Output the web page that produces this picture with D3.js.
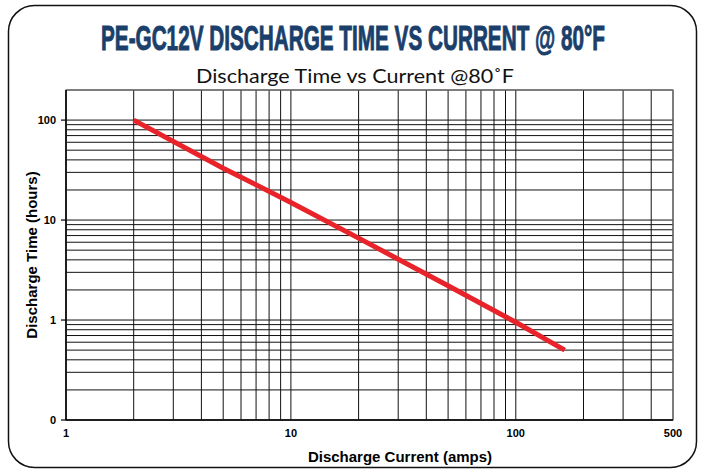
<!DOCTYPE html>
<html>
<head>
<meta charset="utf-8">
<script src="https://cdn.jsdelivr.net/npm/d3@7"></script>
<style>
  body { margin: 0; background: #fff; }
  svg { display: block; }
</style>
</head>
<body>
<svg id="chart" width="703" height="471"></svg>
<script>
// data
var current = [2, 5, 10, 20, 50, 100, 165];
var hours = [100, 33, 15, 6.6, 2.2, 0.95, 0.5];

var xTicks = [1, 10, 100, 500];
var xTickLabels = ['1', '10', '100', '500'];
var yTicks = [0.1, 1, 10, 100];
var yTickLabels = ['0', '1', '10', '100'];

(function () {
var svg = d3.select('#chart');
var mLeft = 66, mRight = 673, mTop = 90, mBottom = 420;

var x = d3.scaleLog().domain([1, 500]).range([mLeft, mRight]);
var y = d3.scaleLog().domain([0.1, 200]).range([mBottom, mTop]);

// frame
svg.append('rect')
    .attr('x', 8.5).attr('y', 5.5)
    .attr('width', 688).attr('height', 462)
    .attr('rx', 26).attr('ry', 26)
    .attr('fill', '#fff')
    .attr('stroke', '#111')
    .attr('stroke-width', 1.5);

svg.append('text')
    .attr('x', 353).attr('y', 50)
    .attr('text-anchor', 'middle')
    .attr('textLength', 504)
    .attr('lengthAdjust', 'spacingAndGlyphs')
    .style('font-family', '"Liberation Sans Narrow", "Liberation Sans", sans-serif')
    .style('font-weight', 'bold')
    .style('font-size', '35px')
    .style('fill', '#1b3f6b')
    .style('stroke', '#1b3f6b')
    .style('stroke-width', 1)
    .text('PE-GC12V DISCHARGE TIME VS CURRENT @ 80°F');

svg.append('text')
    .attr('x', 355).attr('y', 83)
    .attr('text-anchor', 'middle')
    .attr('textLength', 318)
    .attr('lengthAdjust', 'spacingAndGlyphs')
    .style('font-family', 'Lato, sans-serif')
    .style('font-size', '19px')
    .style('fill', '#111')
    .text('Discharge Time vs Current @80˚F');

// grid
var xGrid = [];
[1, 10, 100].forEach(function (d) {
    for (var k = 1; k < 10; k++) if (d * k <= 500) xGrid.push(d * k);
});
var yGrid = [];
[0.1, 1, 10].forEach(function (d) {
    for (var k = 1; k < 10; k++) yGrid.push(d * k);
});
yGrid.push(100, 200);

var g = svg.append('g');
g.selectAll('.vg').data(xGrid).enter().append('line')
    .attr('x1', x).attr('x2', x)
    .attr('y1', mTop).attr('y2', mBottom)
    .attr('stroke', '#111').attr('stroke-width', 1);
g.selectAll('.hg').data(yGrid).enter().append('line')
    .attr('x1', mLeft).attr('x2', mRight)
    .attr('y1', y).attr('y2', y)
    .attr('stroke', '#111').attr('stroke-width', 1);
g.append('rect')
    .attr('x', mLeft).attr('y', mTop)
    .attr('width', mRight - mLeft).attr('height', mBottom - mTop)
    .attr('fill', 'none').attr('stroke', '#777').attr('stroke-width', 1.2);

// axes
svg.append('line')
    .attr('x1', mLeft).attr('x2', mLeft).attr('y1', mTop).attr('y2', mBottom)
    .attr('stroke', '#000').attr('stroke-width', 1.5);
svg.append('line')
    .attr('x1', mLeft).attr('x2', mRight).attr('y1', mBottom).attr('y2', mBottom)
    .attr('stroke', '#000').attr('stroke-width', 1.5);

svg.selectAll('.yt').data(yTicks).enter().append('line')
    .attr('x1', mLeft - 5).attr('x2', mLeft)
    .attr('y1', y).attr('y2', y)
    .attr('stroke', '#000').attr('stroke-width', 1.2);

svg.selectAll('.ytl').data(yTicks).enter().append('text')
    .attr('x', mLeft - 10)
    .attr('y', function (d) { return y(d) + 4; })
    .attr('text-anchor', 'end')
    .style('font-family', '"Liberation Sans", Arial, sans-serif')
    .style('font-weight', 'bold')
    .style('font-size', '11px')
    .text(function (d, i) { return yTickLabels[i]; });

svg.selectAll('.xtl').data(xTicks).enter().append('text')
    .attr('x', x)
    .attr('y', mBottom + 17)
    .attr('text-anchor', 'middle')
    .style('font-family', '"Liberation Sans", Arial, sans-serif')
    .style('font-weight', 'bold')
    .style('font-size', '11px')
    .text(function (d, i) { return xTickLabels[i]; });

svg.append('text')
    .attr('x', 400).attr('y', 462)
    .attr('text-anchor', 'middle')
    .style('font-family', '"Liberation Sans", Arial, sans-serif')
    .style('font-weight', 'bold')
    .style('font-size', '15px')
    .text('Discharge Current (amps)');

svg.append('text')
    .attr('transform', 'translate(37,255) rotate(-90)')
    .attr('text-anchor', 'middle')
    .style('font-family', '"Liberation Sans", Arial, sans-serif')
    .style('font-weight', 'bold')
    .style('font-size', '15px')
    .text('Discharge Time (hours)');

// series
var line = d3.line()
    .x(function (d) { return x(d[0]); })
    .y(function (d) { return y(d[1]); });

svg.append('path')
    .datum(d3.zip(current, hours))
    .attr('d', line)
    .attr('fill', 'none')
    .attr('stroke', '#e8232a')
    .attr('stroke-width', 5);
})();
</script>
</body>
</html>
